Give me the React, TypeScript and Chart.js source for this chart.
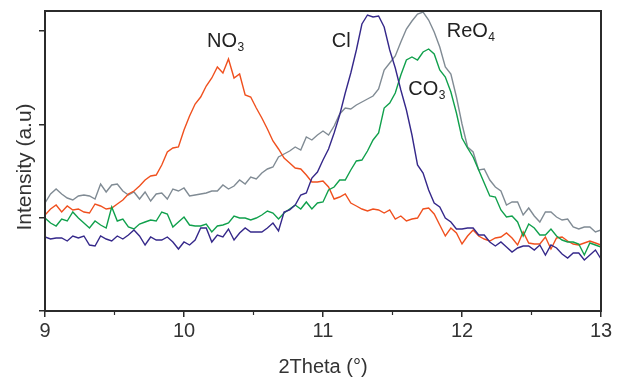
import React, { useEffect, useRef } from "react";
import { Chart, registerables } from "chart.js";

Chart.register(...registerables);

// 2Theta sampling grid (degrees)
const THETA_START = 9;
const THETA_STEP = 0.04;

// Intensity (a.u.)
const CL = [74,72,73,73,70,75,73,75,66,65, 75,72,70,75,72,76,81,75,66,74, 71,71,74,69,62,69,66,71,83,83,
  69,76,74,82,71,78,83,79,79,79, 83,88,80,99,101,106,116,118,133,139, 151,162,178,196,218,238,261,287,296,294,
  295,284,261,243,221,201,176,146,138,121, 108,104,93,89,82,82,83,83,76,76, 69,65,69,64,59,63,65,65,61,66,
  56,66,63,57,53,58,58,51,56,61, 52];
const CO3 = [93,88,85,92,90,99,93,88,83,90, 86,83,104,90,92,84,82,87,89,91, 90,99,97,84,89,94,86,85,85,87,
  79,85,86,88,95,93,93,91,93,96, 100,98,92,98,102,106,102,109,102,108, 109,121,124,131,131,141,150,151,160,171,
  178,203,208,218,236,251,254,251,259,262, 257,241,234,219,198,173,163,154,141,128, 115,114,101,94,95,89,75,87,83,76,
  76,82,75,71,69,69,67,56,68,66, 64];
const REO4 = [108,117,122,117,113,111,115,116,115,112, 127,119,126,127,120,116,119,112,119,110, 117,118,112,122,120,123,115,116,117,118,
  120,120,126,122,125,131,127,134,132,138, 142,144,154,157,160,164,161,174,171,176, 180,176,185,197,203,202,206,209,212,215,
  222,241,248,255,269,282,290,297,299,291, 279,264,244,237,214,187,164,159,141,142, 131,124,120,106,109,109,96,103,95,89,
  99,99,94,91,92,84,82,84,84,79, 81];
const NO3 = [96,102,106,99,105,101,102,99,98,107, 105,102,103,107,111,117,120,125,131,135, 136,146,159,163,164,181,195,207,214,225,
  233,244,238,252,233,237,216,214,203,193, 182,170,162,153,148,143,142,136,129,129, 130,124,112,114,117,108,105,102,100,102,
  101,98,101,92,95,90,92,93,102,103, 97,86,75,83,78,67,75,81,75,72, 70,73,74,78,73,66,79,68,67,67,
  74,62,73,74,70,67,66,68,70,68, 66];

const X_MAJOR = [9, 10, 11, 12, 13];
const X_MINOR = [9.5, 10.5, 11.5, 12.5];
const Y_TICKS = [0, 93.33, 186.67, 280];

const PEAK_LABELS = [
  { main: "NO", sub: "3", x: 10.165, y: 264 },
  { main: "Cl", sub: "", x: 11.063, y: 264 },
  { main: "ReO", sub: "4", x: 11.89, y: 274 },
  { main: "CO", sub: "3", x: 11.614, y: 216 },
];

const FONT = "'Liberation Sans', Arial, Helvetica, sans-serif";
const INK = "#2b2b2b";

export default function App() {
  const ref = useRef<HTMLCanvasElement>(null);

  useEffect(() => {
    document.body.style.margin = "0";
    const canvas = ref.current;
    if (!canvas) return;
    const pts = (arr: number[]) => arr.map((v, i) => ({ x: THETA_START + THETA_STEP * i, y: v }));

    const decor = {
      id: "decor",
      afterDatasetsDraw(chart: any) {
        const { ctx, chartArea: a, scales } = chart;
        ctx.save();
        ctx.strokeStyle = INK;
        ctx.lineWidth = 2;
        ctx.strokeRect(a.left, a.top, a.right - a.left, a.bottom - a.top);
        ctx.lineWidth = 1.2;
        X_MINOR.forEach((v) => {
          const px = scales.x.getPixelForValue(v);
          ctx.beginPath();
          ctx.moveTo(px, a.bottom);
          ctx.lineTo(px, a.bottom + 4);
          ctx.stroke();
        });
        ctx.fillStyle = "#222";
        ctx.textBaseline = "alphabetic";
        ctx.textAlign = "left";
        PEAK_LABELS.forEach((l) => {
          const px = scales.x.getPixelForValue(l.x);
          const py = scales.y.getPixelForValue(l.y);
          ctx.font = `20px ${FONT}`;
          ctx.fillText(l.main, px, py);
          const w = ctx.measureText(l.main).width;
          if (l.sub) {
            ctx.font = `12px ${FONT}`;
            ctx.fillText(l.sub, px + w + 0.5, py + 3.5);
          }
        });
        // y-axis title
        ctx.font = `21px ${FONT}`;
        ctx.fillStyle = "#333";
        ctx.textAlign = "center";
        ctx.textBaseline = "middle";
        ctx.translate(25, 167);
        ctx.rotate(-Math.PI / 2);
        ctx.fillText("Intensity (a.u)", 0, 0);
        ctx.restore();
      },
    };

    const chart = new Chart(canvas, {
      type: "line",
      data: {
        datasets: [
          { label: "Cl", data: pts(CL), borderColor: "#35288a" },
          { label: "CO3", data: pts(CO3), borderColor: "#10a04c" },
          { label: "NO3", data: pts(NO3), borderColor: "#f0501e" },
          { label: "ReO4", data: pts(REO4), borderColor: "#808b94" },
        ].map((d) => ({ ...d, borderWidth: 1.4, pointRadius: 0, tension: 0, fill: false })),
      },
      options: {
        responsive: false,
        animation: false,
        events: [],
        layout: { padding: { top: 11, right: 23, left: 0, bottom: 0 } },
        plugins: { legend: { display: false }, tooltip: { enabled: false } },
        scales: {
          x: {
            type: "linear",
            min: 9,
            max: 13,
            afterBuildTicks: (s: any) => {
              s.ticks = X_MAJOR.map((v) => ({ value: v }));
            },
            afterFit: (s: any) => {
              s.height = 67;
            },
            ticks: {
              color: "#333",
              font: { family: FONT, size: 20 },
              padding: 2,
              maxRotation: 0,
              autoSkip: false,
              callback: (v: any) => String(v),
            },
            grid: { drawOnChartArea: false, drawTicks: true, tickLength: 6, color: INK, lineWidth: 1.5 },
            border: { display: false },
            title: {
              display: true,
              text: "2Theta (°)",
              color: "#333",
              font: { family: FONT, size: 20 },
              padding: { top: 0, bottom: -1 },
            },
          },
          y: {
            type: "linear",
            min: 0,
            max: 300,
            afterBuildTicks: (s: any) => {
              s.ticks = Y_TICKS.map((v) => ({ value: v }));
            },
            afterFit: (s: any) => {
              s.width = 45;
            },
            ticks: { callback: () => "", padding: 0 },
            grid: { drawOnChartArea: false, drawTicks: true, tickLength: 6, color: INK, lineWidth: 1.5 },
            border: { display: false },
          },
        },
      },
      plugins: [decor],
    });
    return () => chart.destroy();
  }, []);

  return (
    <div style={{ width: 624, height: 378, position: "relative" }}>
      <canvas ref={ref} width={624} height={378} style={{ display: "block" }} />
    </div>
  );
}
